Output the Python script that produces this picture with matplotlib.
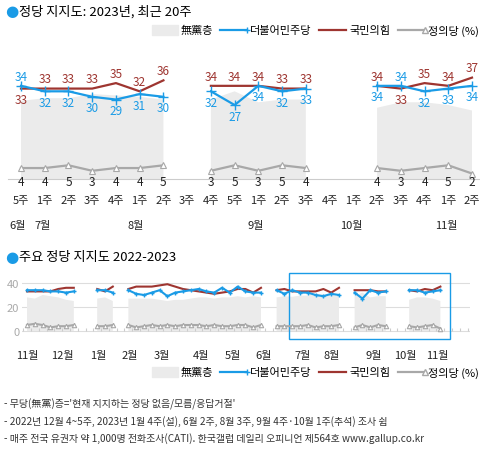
import matplotlib
matplotlib.use('Agg')
import matplotlib.pyplot as plt
import numpy as np
from matplotlib.patches import Rectangle

plt.rcParams['font.family'] = ['Noto Sans CJK KR', 'DejaVu Sans']

BLUE = '#1a9be6'
RED = '#9e3530'
GRAY = '#a8a8a8'
AREA = '#ebebeb'

# ---- top chart: last 20 weeks (None = no survey)
week_labels = ['5주', '1주', '2주', '3주', '4주', '1주', '2주', '3주', '4주', '5주',
               '1주', '2주', '3주', '4주', '1주', '2주', '3주', '4주', '1주', '2주']
month_labels = ['6월', '7월', '8월', '9월', '10월', '11월']
month_pos = [-0.15, 0.9, 4.85, 9.9, 13.9, 17.9]
dp = [34, 32, 32, 30, 29, 31, 30, None, 32, 27, 34, 32, 33, None, None, 34, 34, 32, 33, 34]
ppp = [33, 33, 33, 33, 35, 32, 36, None, 34, 34, 34, 33, 33, None, None, 34, 33, 35, 34, 37]
jus = [4, 4, 5, 3, 4, 4, 5, None, 3, 5, 3, 5, 4, None, None, 4, 3, 4, 5, 2]
none_ = [28.5, 29.5, 29.5, 31, 30.5, 30, 29, None, 29, 32, 28, 29, 29, None, None, 26, 28, 28, 27, 25]

# ---- bottom chart: 2022-11 ~ 2023-11 weekly
b_dp = [34, 34, 34, 33, 33, 32, 33, None, None,
        34, 34, 32, None,
        34, 31, 30, 32, 34, 29, 32, 33, 34, 35, 33, 32, 36, 32, 37, 33, 32, 32, None,
        34, 31, 34, 32, 32, 30, 29, 31, 30, None,
        32, 27, 34, 32, 33, None, None,
        34, 34, 32, 33, 34]
b_ppp = [33, 33, 33, 33, 35, 36, 36, None, None,
         35, 33, 37, None,
         35, 37, 37, 37, 38, 39, 37, 35, 34, 33, 32, 31, 32, 33, 35, 35, 32, 36, None,
         34, 35, 33, 33, 33, 33, 35, 32, 36, None,
         34, 34, 34, 33, 33, None, None,
         34, 33, 35, 34, 37]
b_jus = [5, 6, 5, 3, 4, 4, 5, None, None,
         4, 4, 5, None,
         5, 3, 4, 5, 4, 5, 4, 5, 5, 5, 4, 5, 4, 4, 5, 5, 3, 5, None,
         4, 4, 4, 4, 5, 3, 4, 4, 5, None,
         3, 5, 3, 5, 4, None, None,
         4, 3, 4, 5, 2]
b_none = [28, 27, 30, 29, 28, 26, 25, None, None,
          27, 28, 25, None,
          27, 27, 27, 27, 26, 25, 26, 26, 27, 28, 28, 27, 28, 28, 29, 28, 29, 28, None,
          28, 29, 28.5, 29.5, 29.5, 31, 30.5, 30, 29, None,
          29, 32, 28, 29, 29, None, None,
          26, 28, 28, 27, 25]
b_months = ['11월', '12월', '1월', '2월', '3월', '4월', '5월', '6월', '7월', '8월', '9월', '10월', '11월']
b_month_pos = [0, 4.5, 9.1, 13.2, 17.3, 22.3, 26.4, 30.4, 35.4, 39.1, 44.5, 48.5, 52.6]

legend_names = ['無黨층', '더불어민주당', '국민의힘', '정의당 (%)']


def arr(v):
    return np.array([np.nan if x is None else x for x in v], dtype=float)


W, H = 481, 452
fig = plt.figure(figsize=(W / 100, H / 100), dpi=100)


def px_axes(l, t, r, b):
    return fig.add_axes([l / W, 1 - b / H, (r - l) / W, (b - t) / H])


def draw_series(ax, x, dpv, pppv, jusv, nonev, ms_dp, ms_j, lw=1.6):
    n = arr(nonev)
    ax.fill_between(x, 0, n, where=~np.isnan(n), color=AREA, lw=0, interpolate=False)
    ax.plot(x, arr(jusv), color=GRAY, lw=lw, marker='^', ms=ms_j, mfc='white', mec=GRAY, mew=0.8)
    ax.plot(x, arr(pppv), color=RED, lw=lw)
    ax.plot(x, arr(dpv), color=BLUE, lw=lw, marker='+', ms=ms_dp, mew=1.0)


def legend_row(y, xs):
    t = fig.transFigure
    x0, x1, x2, x3 = xs
    fig.patches.append(Rectangle((x0 / W, 1 - (y + 5) / H), 26 / W, 10 / H, color=AREA, transform=t))
    fig.text((x0 + 29) / W, 1 - y / H, legend_names[0], fontsize=8, va='center')
    fig.lines.append(plt.Line2D([x1 / W, (x1 + 27) / W], [1 - y / H] * 2, color=BLUE, lw=1.6,
                                marker='+', markevery=[1], ms=5, transform=t))
    fig.text((x1 + 30) / W, 1 - y / H, legend_names[1], fontsize=8, va='center')
    fig.lines.append(plt.Line2D([x2 / W, (x2 + 27) / W], [1 - y / H] * 2, color=RED, lw=1.6, transform=t))
    fig.text((x2 + 30) / W, 1 - y / H, legend_names[2], fontsize=8, va='center')
    fig.lines.append(plt.Line2D([x3 / W, (x3 + 27) / W], [1 - y / H] * 2, color=GRAY, lw=1.6,
                                marker='^', markevery=[1], ms=4, mfc='white', transform=t))
    fig.text((x3 + 30) / W, 1 - y / H, legend_names[3], fontsize=8, va='center')


# titles
fig.text(5 / W, 1 - 12 / H, '●', color=BLUE, fontsize=11, va='center', family='DejaVu Sans')
fig.text(19 / W, 1 - 12 / H, '정당 지지도: 2023년, 최근 20주', fontsize=9.5, va='center')
fig.text(5 / W, 1 - 257 / H, '●', color=BLUE, fontsize=11, va='center', family='DejaVu Sans')
fig.text(19 / W, 1 - 257 / H, '주요 정당 지지도 2022-2023', fontsize=9.5, va='center')

legend_row(31, [152, 220, 319, 398])

# ---- top axes
ax = px_axes(8, 60, 481, 180)
x = np.arange(len(dp))
ax.set_xlim(-(21 - 8) / 23.74, 19 + (481 - 472) / 23.74)
ax.set_ylim(0, 120 / 2.74)
draw_series(ax, x, dp, ppp, jus, none_, ms_dp=7, ms_j=5)
ax.axhline(0, color='#cccccc', lw=0.8, clip_on=False)
ax.axis('off')
for i in range(len(x)):
    if dp[i] is None:
        continue
    d, p = dp[i], ppp[i]
    dp_up = d > p
    ax.annotate(str(d), (i, d), xytext=(0, 7 if dp_up else -8), textcoords='offset points',
                ha='center', va='center', fontsize=8.5, color=BLUE)
    ax.annotate(str(p), (i, p), xytext=(0, -8 if dp_up else 7), textcoords='offset points',
                ha='center', va='center', fontsize=8.5, color=RED)
    ax.annotate(str(jus[i]), (i, 0), xytext=(0, -2), textcoords='offset points',
                ha='center', va='center', fontsize=8.5, color='#222222')
for i, lab in enumerate(week_labels):
    ax.annotate(lab, (i, 0), xytext=(0, -15), textcoords='offset points',
                ha='center', va='center', fontsize=8, color='#222222', annotation_clip=False)
for lab, p in zip(month_labels, month_pos):
    ax.annotate(lab, (p, 0), xytext=(0, -33), textcoords='offset points',
                ha='center', va='center', fontsize=8, color='#222222', annotation_clip=False)

# ---- bottom axes
bx = px_axes(22, 278, 470, 340)
xb = np.arange(len(b_dp))
sp = 7.8
bx.set_xlim(-(27 - 22) / sp, (470 - 27) / sp)
bx.set_ylim(-8 / 1.2, (332 - 278) / 1.2)
for g in [0, 20, 40]:
    bx.axhline(g, color='#dddddd', lw=0.8, zorder=0)
draw_series(bx, xb, b_dp, b_ppp, b_jus, b_none, ms_dp=2.5, ms_j=3.2, lw=1.5)
for s in bx.spines.values():
    s.set_visible(False)
bx.set_yticks([0, 20, 40])
bx.set_yticklabels(['0', '20', '40'], color='#aaaaaa', fontsize=8)
bx.tick_params(axis='y', length=0, pad=2)
bx.set_xticks(np.arange(-0.5, 57, 1))
bx.set_xticklabels([])
bx.tick_params(axis='x', length=2.5, color='#cccccc', direction='in')
bx.spines['bottom'].set_position(('data', 0))
for lab, p in zip(b_months, b_month_pos):
    bx.annotate(lab, (p, 0), xytext=(0, -17), textcoords='offset points',
                ha='center', va='center', fontsize=8, color='#222222', annotation_clip=False)
bx.add_patch(Rectangle((33.6, -6.5), 20.6, 55, fill=False, ec=BLUE, lw=1.0, clip_on=False))

legend_row(373, [152, 220, 319, 398])

notes = ['- 무당(無黨)층=\'현재 지지하는 정당 없음/모름/응답거절\'',
         '- 2022년 12월 4~5주, 2023년 1월 4주(설), 6월 2주, 8월 3주, 9월 4주·10월 1주(추석) 조사 쉼',
         '- 매주 전국 유권자 약 1,000명 전화조사(CATI). 한국갤럽 데일리 오피니언 제564호 www.gallup.co.kr']
for k, t in enumerate(notes):
    fig.text(4 / W, 1 - (404 + 17.5 * k) / H, t, fontsize=7.2, va='center', color='#333333')

fig.savefig('out.png', dpi=100)
